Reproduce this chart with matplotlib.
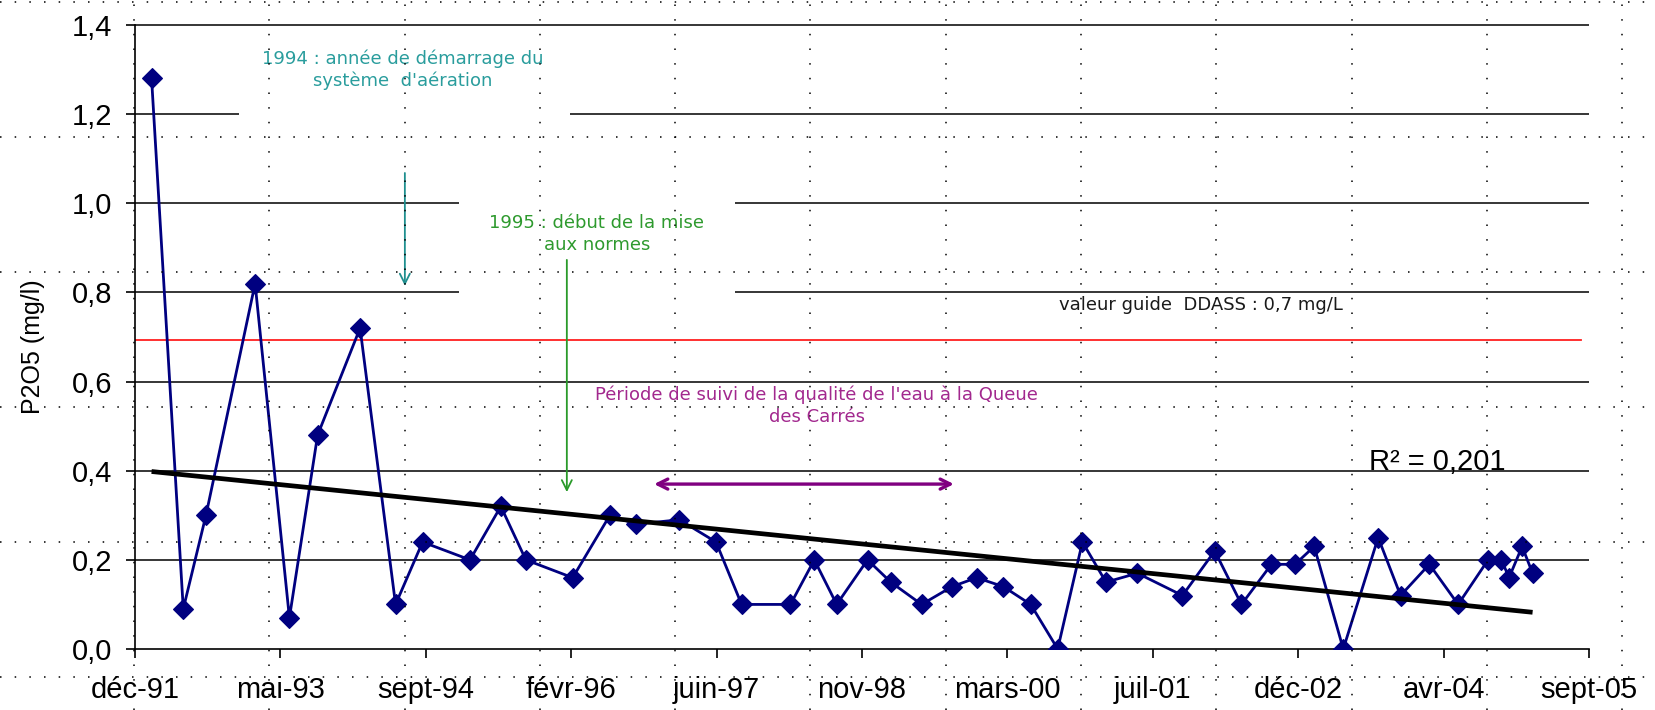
import numpy as np
import pandas as pd
import matplotlib
matplotlib.use("Agg")
import matplotlib.pyplot as plt
import matplotlib.dates as mdates
from matplotlib.patches import Rectangle
from matplotlib.lines import Line2D

dates = ["1992-02-26", "1992-06-14", "1992-08-31", "1993-02-16", "1993-06-14",
         "1993-09-19", "1994-02-12", "1994-06-14", "1994-09-15", "1995-02-25",
         "1995-06-11", "1995-09-05", "1996-02-13", "1996-06-20", "1996-09-18",
         "1997-02-14", "1997-06-20", "1997-09-16", "1998-03-03", "1998-05-24",
         "1998-08-09", "1998-11-23", "1999-02-11", "1999-05-28", "1999-09-10",
         "1999-12-03", "2000-03-04", "2000-06-06", "2000-09-07", "2000-12-01",
         "2001-02-20", "2001-06-08", "2001-11-10", "2002-03-01", "2002-06-01",
         "2002-09-12", "2002-12-02", "2003-02-06", "2003-05-17", "2003-09-14",
         "2003-11-30", "2004-03-08", "2004-06-15", "2004-09-26", "2004-11-11",
         "2004-12-07", "2005-01-21", "2005-02-26"]
p2o5 = [1.28, 0.09, 0.30, 0.82, 0.07, 0.48, 0.72, 0.10, 0.24, 0.20,
        0.32, 0.20, 0.16, 0.30, 0.28, 0.29, 0.24, 0.10, 0.10, 0.20,
        0.10, 0.20, 0.15, 0.10, 0.14, 0.16, 0.14, 0.10, 0.00, 0.24,
        0.15, 0.17, 0.12, 0.22, 0.10, 0.19, 0.19, 0.23, 0.00, 0.25,
        0.12, 0.19, 0.10, 0.20, 0.20, 0.16, 0.23, 0.17]

x_labels = ["déc-91", "mai-93", "sept-94", "févr-96", "juin-97", "nov-98",
            "mars-00", "juil-01", "déc-02", "avr-04", "sept-05"]
y_ticks = [0.0, 0.2, 0.4, 0.6, 0.8, 1.0, 1.2, 1.4]
y_labels = ["0,0", "0,2", "0,4", "0,6", "0,8", "1,0", "1,2", "1,4"]
guide_value = 0.693
r2_text = "R² = 0,201"

start = pd.Timestamp("1991-12-31")
step = 500  # days between axis ticks (excel date axis)

def d(days):
    return mdates.date2num(start + pd.Timedelta(days=days))

W, H = 1656, 710
fig = plt.figure(figsize=(W / 100, H / 100), dpi=100)
ax = fig.add_axes([135 / W, 1 - 649 / H, 1454 / W, 624 / H])

t = pd.to_datetime(dates)
tn = mdates.date2num(t)

# horizontal gridlines (drawn unclipped so the top one is full width)
ax.hlines(y_ticks[1:], d(0), d(10 * step), color="black", lw=1.1,
          zorder=0.5, clip_on=False)

# white text boxes hiding part of the grid
ax.add_patch(Rectangle((d(358), 1.16), d(1496) - d(358), 0.2,
                       facecolor="white", edgecolor="none", zorder=1))
ax.add_patch(Rectangle((d(1114), 0.74), d(2063) - d(1114), 0.34,
                       facecolor="white", edgecolor="none", zorder=1))

# guide value
ax.plot([d(0), d(4972)], [guide_value, guide_value], color="#ff2020", lw=1.3, zorder=2)

# linear trend
coef = np.polyfit(tn, p2o5, 1)
ax.plot([tn[0], tn[-1]], np.polyval(coef, [tn[0], tn[-1]]), color="black",
        lw=3.4, zorder=4, solid_capstyle="butt")

ax.plot(tn, p2o5, color="#000080", lw=2, marker="D", ms=10.5,
        mfc="#000080", mec="#000080", mew=0.8, zorder=3)

ax.set_xlim(d(0), d(10 * step))
ax.set_ylim(0, 1.4)
ax.set_xticks([d(k * step) for k in range(len(x_labels))])
ax.set_xticklabels(x_labels)
ax.set_yticks(y_ticks)
ax.set_yticklabels(y_labels)

for s in ["top", "right"]:
    ax.spines[s].set_visible(False)
for s in ["left", "bottom"]:
    ax.spines[s].set_linewidth(1.2)
ax.tick_params(axis="both", direction="out", length=6.5, width=1.2,
               labelsize=21)
ax.tick_params(axis="x", pad=13)
ax.tick_params(axis="y", pad=10)
for lab in ax.get_xticklabels() + ax.get_yticklabels():
    lab.set_fontfamily("Liberation Sans")

ax.set_ylabel("P2O5 (mg/l)", fontsize=18, family="Liberation Sans")
ax.yaxis.set_label_coords(-0.062, 0.484)

# annotations
note_font = "DejaVu Sans"
note_size = 13
ax.text(d(921), 1.30, "1994 : année de démarrage du\nsystème  d'aération",
        color="#2a9d9d", fontsize=note_size, family=note_font, ha="center",
        va="center", linespacing=1.25, zorder=5)
ax.annotate("", xy=(d(928), 0.815), xytext=(d(928), 1.068),
            arrowprops=dict(arrowstyle="->", color="#1f8f8f", lw=1.3,
                            mutation_scale=18, shrinkA=0, shrinkB=0))

ax.text(d(1588), 0.931, "1995 : début de la mise\naux normes",
        color="#2e9a2e", fontsize=note_size, family=note_font, ha="center",
        va="center", linespacing=1.25, zorder=5)
ax.annotate("", xy=(d(1485), 0.352), xytext=(d(1485), 0.873),
            arrowprops=dict(arrowstyle="->", color="#2a9a2a", lw=1.3,
                            mutation_scale=18, shrinkA=0, shrinkB=0))

ax.text(d(2345), 0.546, "Période de suivi de la qualité de l'eau à la Queue\ndes Carrés",
        color="#a2288e", fontsize=note_size, family=note_font, ha="center",
        va="center", linespacing=1.25, zorder=5)
ax.annotate("", xy=(d(1785), 0.37), xytext=(d(2816), 0.37),
            arrowprops=dict(arrowstyle="<->", color="#800080", lw=2.4,
                            mutation_scale=18, shrinkA=0, shrinkB=0))

ax.text(d(3665), 0.772, "valeur guide  DDASS : 0,7 mg/L", color="#1a1a1a",
        fontsize=note_size, family=note_font, ha="center", va="center", zorder=5)

ax.text(d(4477), 0.42, r2_text, color="black", fontsize=21,
        family="Liberation Sans", ha="center", va="center", zorder=5)

# spreadsheet cell gridlines showing through the transparent chart
for xc in np.arange(134, W, 135.3):
    fig.add_artist(Line2D([xc / W, xc / W], [0, 1], transform=fig.transFigure,
                          color="black", lw=1.1, ls=(0, (1, 8.6)), zorder=5))
for yr in np.arange(2, H, 135.0):
    fig.add_artist(Line2D([0, 1], [1 - yr / H, 1 - yr / H], transform=fig.transFigure,
                          color="black", lw=1.1, ls=(0, (1, 8.6)), zorder=5))

fig.savefig("out.png", dpi=100)
